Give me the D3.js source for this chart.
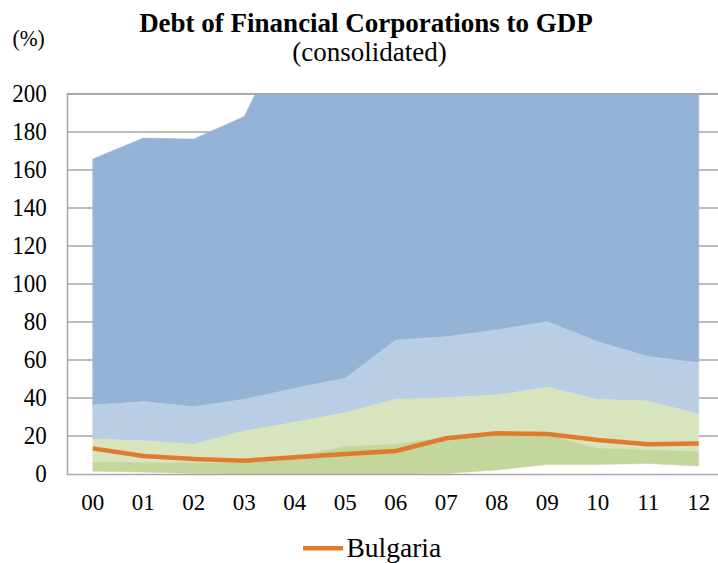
<!DOCTYPE html>
<html><head><meta charset="utf-8">
<script src="https://cdn.jsdelivr.net/npm/d3@7"></script>
<style>body{margin:0;background:#fff;}svg{display:block;font-family:"Liberation Serif","Times New Roman",serif;}</style>
</head><body>
<svg id="c" width="718" height="563"></svg>
<script>
const years = ["00","01","02","03","04","05","06","07","08","09","10","11","12"];
const yTicks = [0,20,40,60,80,100,120,140,160,180,200];
// distribution bands (values above 200 run off the chart top)
const maxV = [165.8,176.8,176.3,188.2,242,260,280,290,300,300,290,280,270];
const q75  = [36.3,38.1,35.4,39.3,45.1,50.4,70.5,72.3,75.8,80.2,69.6,61.8,58.6];
const med  = [18.4,17.5,15.6,22.6,27.2,32.3,39.3,40.2,41.6,45.6,39.3,38.4,31.4];
const q25  = [6.0,6.0,5.8,6.0,9.1,14.4,15.6,19.4,20.6,20.4,13.5,12.6,11.8];
const minV = [1.5,1.0,0.3,0,0,0,0,0.3,2.1,5.0,5.0,5.5,4.2];
const bulgaria = [13.5,9.5,7.9,7.0,8.8,10.5,12.1,18.8,21.4,21.1,17.9,15.6,16.1];

const svg = d3.select("#c");
const x = d3.scalePoint().domain(years).range([67.5, 724]).padding(0.5);
const y = d3.scaleLinear().domain([0,200]).range([474, 94]);

svg.append("defs").append("clipPath").attr("id","pc")
  .append("rect").attr("x",67).attr("y",94).attr("width",660).attr("height",380);

// gridlines
svg.append("g").selectAll("line").data(yTicks.filter(d=>d>0)).join("line")
  .attr("x1",67).attr("x2",730).attr("y1",d=>y(d)).attr("y2",d=>y(d))
  .attr("stroke","#a6a6a6").attr("stroke-width",1.5);

const bands = [
  {hi:maxV, lo:q75, c:"#95b3d7"},
  {hi:q75, lo:med, c:"#b9cde5"},
  {hi:med, lo:q25, c:"#d7e4bd"},
  {hi:q25, lo:minV, c:"#c3d69b"}
];
const g = svg.append("g").attr("clip-path","url(#pc)");
bands.forEach(b=>{
  const area = d3.area().x((d,i)=>x(years[i])).y0((d,i)=>y(b.lo[i])).y1((d,i)=>y(b.hi[i]));
  g.append("path").datum(years).attr("d",area).attr("fill",b.c).attr("stroke",b.c).attr("stroke-width",0.5);
});

// axes lines
svg.append("line").attr("x1",67.5).attr("x2",67.5).attr("y1",93).attr("y2",474.5).attr("stroke","#a6a6a6").attr("stroke-width",1.5);
svg.append("line").attr("x1",67).attr("x2",730).attr("y1",474.5).attr("y2",474.5).attr("stroke","#a6a6a6").attr("stroke-width",1.5);
svg.append("line").attr("x1",67).attr("x2",730).attr("y1",94).attr("y2",94).attr("stroke","#a6a6a6").attr("stroke-width",1.5);

// Bulgaria line
const line = d3.line().x((d,i)=>x(years[i])).y(d=>y(d));
svg.append("path").datum(bulgaria).attr("d",line).attr("fill","none")
  .attr("stroke","#e07b2e").attr("stroke-width",4.5).attr("stroke-linejoin","round");

// y tick labels (slightly tall glyphs)
svg.append("g").selectAll("text").data(yTicks).join("text")
  .attr("transform",d=>`translate(46.7,${y(d)+8}) scale(1,1.08)`).attr("text-anchor","end")
  .attr("font-size",23).attr("fill","#000").text(d=>d);

// x tick labels
svg.append("g").selectAll("text").data(years).join("text")
  .attr("x",d=>x(d)).attr("y",509.5).attr("text-anchor","middle")
  .attr("font-size",23).attr("fill","#000").text(d=>d);

// titles
svg.append("text").attr("x",366).attr("y",32).attr("text-anchor","middle")
  .attr("font-size",27).attr("font-weight","bold").text("Debt of Financial Corporations to GDP");
svg.append("text").attr("x",369.5).attr("y",61).attr("text-anchor","middle")
  .attr("font-size",27).text("(consolidated)");
svg.append("text").attr("transform","translate(12.5,45.5) scale(1,1.1)").attr("font-size",21.5).text("(%)");

// legend
svg.append("line").attr("x1",303).attr("x2",343).attr("y1",548.3).attr("y2",548.3)
  .attr("stroke","#e07b2e").attr("stroke-width",4.5);
svg.append("text").attr("x",346.5).attr("y",556.7).attr("font-size",27.5).text("Bulgaria");
</script>
</body></html>
